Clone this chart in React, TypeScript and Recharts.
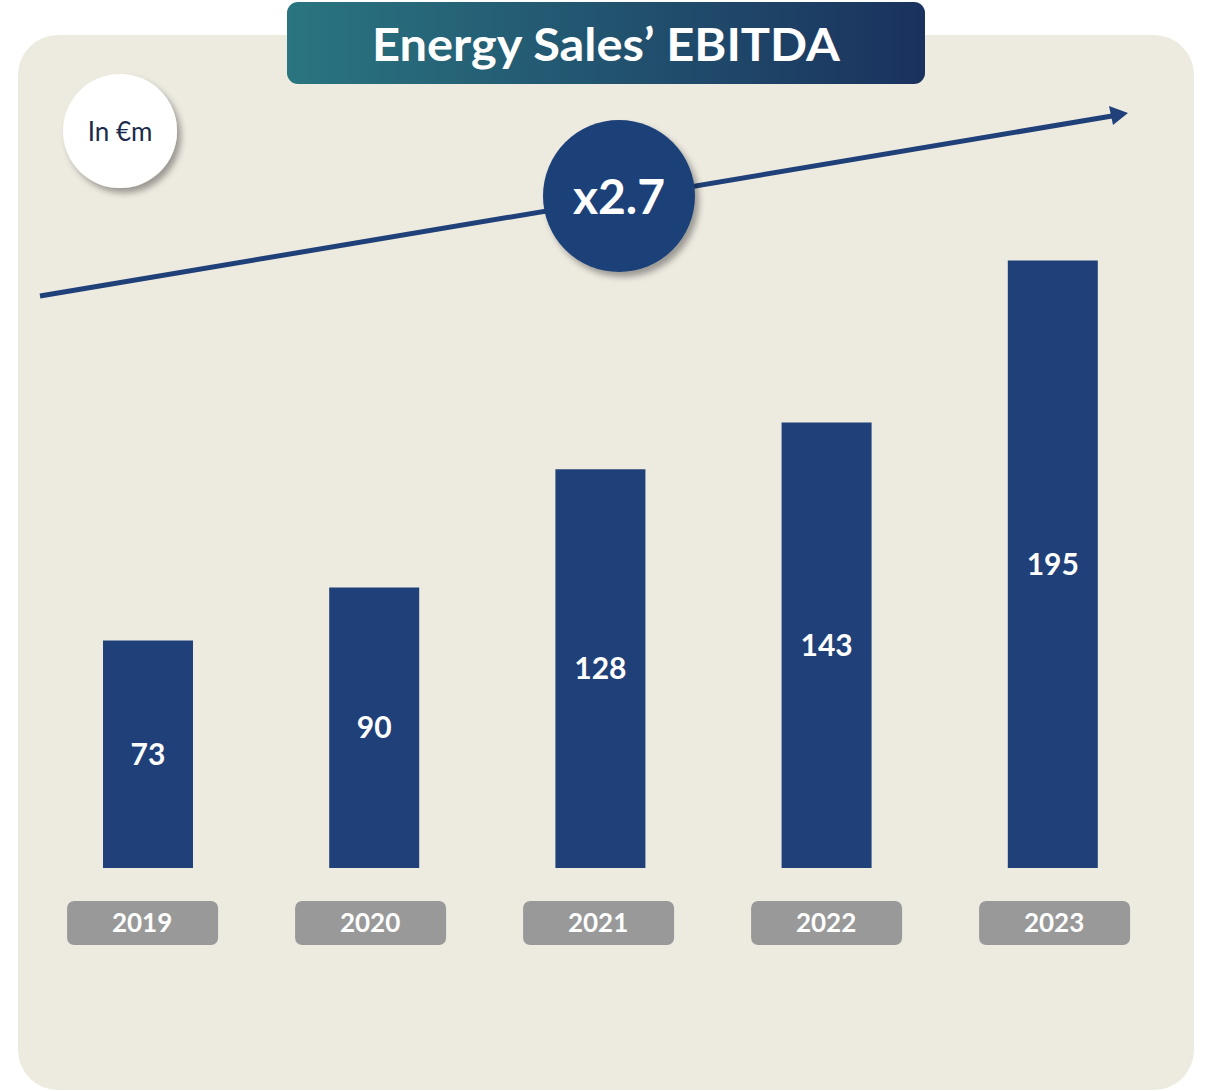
import React from "react";
import { BarChart, Bar, XAxis, YAxis, LabelList } from "recharts";

const years = ["2019", "2020", "2021", "2022", "2023"];
const ebitda = [73, 90, 128, 143, 195];
const titleText = "Energy Sales\u2019 EBITDA";
const unitText = "In \u20acm";
const growthText = "x2.7";

const data = years.map((y, i) => ({ year: y, value: ebitda[i] }));

const NAVY = "#1F4078";
const FONT = "Lato, 'Open Sans', sans-serif";

const YearTick = (props: any) => {
  const { x, y, payload, index } = props;
  const cx = x - 6 + (index || 0) * 1.8;
  return (
    <g>
      <rect x={cx - 75} y={y + 33} width={151} height={44} rx={7} ry={7} fill="#999999" />
      <text x={cx} y={y + 64} textAnchor="middle" fill="#ffffff" fontSize={26} fontWeight={700} fontFamily={FONT}>
        {payload.value}
      </text>
    </g>
  );
};

export default function App() {
  return (
    <div style={{ position: "absolute", left: 0, top: 0, width: 1206, height: 1091, background: "#ffffff" }}>
      <div
        style={{
          position: "absolute",
          left: 18,
          top: 35,
          width: 1176,
          height: 1055,
          borderRadius: 40,
          background: "#EDEAE0",
        }}
      />
      <div style={{ position: "absolute", left: 0, top: 0 }}>
        <BarChart
          width={1206}
          height={1091}
          data={data}
          margin={{ top: 89, right: 40, bottom: 222, left: 35 }}
          barCategoryGap={0}
        >
          <XAxis
            dataKey="year"
            axisLine={false}
            tickLine={false}
            tickSize={0}
            tickMargin={0}
            tick={<YearTick />}
            interval={0}
            height={1}
          />
          <YAxis hide domain={[0, 250]} width={0} />
          <Bar dataKey="value" fill={NAVY} barSize={90} isAnimationActive={false}>
            <LabelList
              dataKey="value"
              position="center"
              fill="#ffffff"
              fontSize={30}
              fontWeight={700}
              fontFamily={FONT}
            />
          </Bar>
        </BarChart>
      </div>
      <svg width={1206} height={1091} style={{ position: "absolute", left: 0, top: 0, pointerEvents: "none" }}>
        <defs>
          <linearGradient id="titleGrad" x1="0" y1="0" x2="1" y2="0">
            <stop offset="0%" stopColor="#2A7580" />
            <stop offset="100%" stopColor="#1A325E" />
          </linearGradient>
          <filter id="shadow" x="-30%" y="-30%" width="160%" height="160%">
            <feDropShadow dx="4" dy="5" stdDeviation="3" floodColor="#000000" floodOpacity="0.35" />
          </filter>
        </defs>
        <rect x={287} y={2} width={638} height={82} rx={11} ry={11} fill="url(#titleGrad)" />
        <text
          x={606}
          y={61}
          textAnchor="middle"
          fill="#ffffff"
          fontSize={46}
          fontWeight={700}
          fontFamily={FONT}
          textLength={468}
          lengthAdjust="spacingAndGlyphs"
        >
          {titleText}
        </text>
        <line x1={40} y1={296} x2={1112} y2={116} stroke={NAVY} strokeWidth={5} />
        <polygon points="1128,113 1109,106 1113,125" fill={NAVY} />
        <circle cx={619} cy={196} r={76} fill={NAVY} filter="url(#shadow)" />
        <text x={619} y={214} textAnchor="middle" fill="#ffffff" fontSize={48} fontWeight={700} fontFamily={FONT}>
          {growthText}
        </text>
        <circle cx={120} cy={131} r={57} fill="#ffffff" filter="url(#shadow)" />
        <text x={120} y={141} textAnchor="middle" fill="#1A2A4A" fontSize={26} fontFamily={FONT}>
          {unitText}
        </text>
      </svg>
    </div>
  );
}
